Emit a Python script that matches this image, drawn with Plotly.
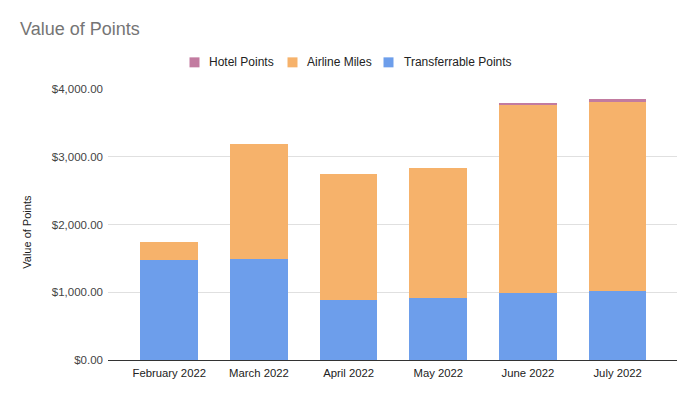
import plotly.graph_objects as go

months = ["February 2022", "March 2022", "April 2022", "May 2022", "June 2022", "July 2022"]
transferrable = [1478, 1493, 887, 916, 985, 1024]
airline = [266, 1699, 1857, 1911, 2779, 2784]
hotel = [0, 0, 0, 0, 22, 48]
y_ticks = [0, 1000, 2000, 3000, 4000]

series = [
    ("Transferrable Points", transferrable, "#6d9eeb"),
    ("Airline Miles", airline, "#f6b26b"),
    ("Hotel Points", hotel, "#c27ba0"),
]

FONT = "Liberation Sans, Arial, sans-serif"

# page geometry (the html body has an 8px margin)
OFF = 8
W, H = 698 - OFF, 400 - OFF
PL, PR, PT, PB = 108, 677, 89, 360.5  # plot area in window pixels


def px(x):
    return (x - PL) / (PR - PL)


def py(y):
    return (PB - y) / (PB - PT)


fig = go.Figure()
for name, vals, col in series:
    fig.add_trace(go.Bar(x=months, y=vals, name=name, showlegend=False,
                         marker=dict(color=col, line=dict(width=0))))

# custom legend (Hotel, Airline, Transferrable)
legend_items = [("Hotel Points", "#c27ba0", 189.5, 208.3),
                ("Airline Miles", "#f6b26b", 287.5, 306.0),
                ("Transferrable Points", "#6d9eeb", 383.5, 402.7)]
shapes = []
annotations = []
for name, col, sx, tx in legend_items:
    shapes.append(dict(type="rect", xref="paper", yref="paper",
                       x0=px(sx), x1=px(sx + 10), y0=py(67.3), y1=py(57.3),
                       fillcolor=col, line=dict(width=0)))
    annotations.append(dict(text=name, xref="paper", yref="paper", x=px(tx - 1), y=py(62.3),
                            xanchor="left", yanchor="middle", showarrow=False,
                            font=dict(family=FONT, size=12, color="#222222")))

annotations.append(dict(text="Value of Points", xref="paper", yref="paper",
                        x=px(27), y=py(232), textangle=-90, showarrow=False,
                        xanchor="center", yanchor="middle",
                        font=dict(family=FONT, size=11, color="#222222")))

fig.update_layout(
    width=W, height=H,
    barmode="stack", bargap=0.357,
    paper_bgcolor="white", plot_bgcolor="white",
    font=dict(family=FONT, color="#222222", size=12),
    margin=dict(l=PL - OFF, r=698 - PR, t=PT - OFF, b=400 - PB, pad=0),
    title=dict(text="Value of Points", xref="container", yref="container",
               x=(20 - OFF) / W, xanchor="left", y=1 - (29 - OFF) / H, yanchor="middle",
               font=dict(size=18, color="#757575", family=FONT)),
    showlegend=False,
    shapes=shapes,
    annotations=annotations,
    xaxis=dict(range=[-0.683, 5.662], showgrid=False, showline=False, ticks="",
               ticklabelstandoff=5,
               tickfont=dict(size=11.3, color="#222222", family=FONT)),
    yaxis=dict(range=[0, 4000], tickvals=y_ticks, tickformat="$,.2f",
               gridcolor="#e0e0e0", gridwidth=1, zeroline=True, zerolinecolor="#333333",
               zerolinewidth=1, showline=False, ticks="", ticklabelstandoff=4,
               tickfont=dict(size=11.5, color="#444444", family=FONT)),
)

fig.write_html("out.html")
